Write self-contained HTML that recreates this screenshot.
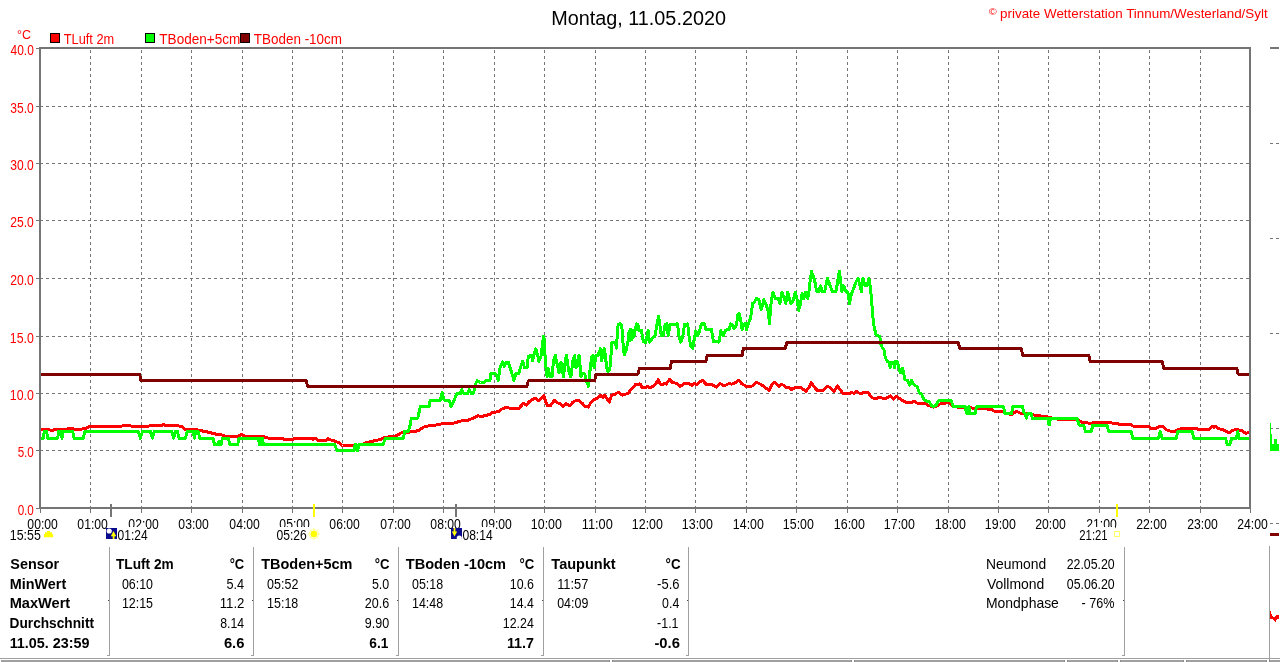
<!DOCTYPE html>
<html lang="de"><head><meta charset="utf-8"><title>Montag, 11.05.2020</title>
<style>html,body{margin:0;padding:0;background:#fff;overflow:hidden}svg text{white-space:pre}</style></head>
<body>
<svg width="1280" height="662" viewBox="0 0 1280 662" style="display:block">
<rect width="1280" height="662" fill="#fff"/>
<path d="M90.5 509V49 M141.5 509V49 M191.5 509V49 M242.5 509V49 M292.5 509V49 M342.5 509V49 M393.5 509V49 M443.5 509V49 M494.5 509V49 M544.5 509V49 M595.5 509V49 M645.5 509V49 M695.5 509V49 M746.5 509V49 M796.5 509V49 M847.5 509V49 M897.5 509V49 M948.5 509V49 M998.5 509V49 M1048.5 509V49 M1099.5 509V49 M1149.5 509V49 M1200.5 509V49" stroke="#757575" stroke-width="1" stroke-dasharray="3 3" fill="none" shape-rendering="crispEdges"/>
<path d="M40 450.5H1249 M40 393.5H1249 M40 336.5H1249 M40 278.5H1249 M40 220.5H1249 M40 163.5H1249 M40 106.5H1249" stroke="#757575" stroke-width="1" stroke-dasharray="3 3" fill="none" shape-rendering="crispEdges"/>
<polyline points="40.0,429.7 48.8,429.7 51.3,430.5 55.1,429.7 63.9,429.1 72.6,428.8 77.6,429.7 81.4,429.1 86.4,428.2 88.9,426.6 95.2,426.1 97.7,426.8 104.0,426.1 110.3,426.3 117.8,426.8 122.8,425.8 130.3,425.8 134.1,426.6 146.6,426.6 150.4,425.7 161.7,425.5 163.9,424.5 165.4,425.7 178.0,425.7 181.7,426.6 184.9,429.7 190.0,429.3 196.3,429.7 200.1,430.5 207.6,432.0 217.6,434.5 222.6,435.1 225.1,436.4 237.7,436.4 241.4,434.5 245.2,436.4 262.8,436.4 267.8,438.0 282.8,438.0 284.1,439.5 292.9,439.5 295.4,438.2 311.7,438.2 312.9,439.5 314.8,438.2 317.9,440.1 326.7,440.1 328.0,438.9 330.5,439.9 334.2,440.8 340.0,443.3 341.3,444.6 342.5,445.5 353.8,445.5 361.3,444.6 367.6,442.3 380.2,439.6 385.2,437.4 395.2,436.2 401.5,432.7 407.7,432.4 417.8,430.8 424.0,427.0 430.3,425.4 437.8,424.9 442.9,423.5 452.9,423.3 461.7,420.8 466.7,420.8 474.2,417.6 478.0,415.7 480.5,416.6 486.7,415.4 490.0,414.1 491.3,413.0 498.8,411.5 501.9,409.0 506.3,407.1 510.1,408.4 518.9,408.4 523.3,403.4 526.4,405.2 528.9,402.1 531.4,400.2 535.2,398.3 538.9,400.8 542.1,397.7 543.7,395.5 545.2,400.2 547.1,405.2 550.2,405.9 552.7,402.7 554.6,400.2 557.1,402.7 560.3,404.0 563.4,406.5 565.9,403.4 569.7,405.9 572.8,402.1 575.3,400.8 579.1,400.8 581.6,402.7 585.3,406.5 588.5,407.1 591.0,402.1 594.1,399.6 597.9,397.7 601.0,395.2 602.9,397.7 604.8,395.2 606.6,398.3 609.2,402.1 611.7,395.2 614.2,394.6 618.6,392.1 622.3,395.2 628.0,393.3 631.7,388.9 635.5,384.5 640.0,383.9 642.5,387.9 645.7,387.2 647.6,386.6 650.1,387.9 653.8,386.0 656.3,382.8 658.2,379.7 660.1,383.5 662.0,384.7 663.9,383.5 666.4,384.1 668.2,381.0 669.9,379.1 672.0,382.2 677.0,383.5 680.2,386.6 683.9,383.5 688.9,383.5 692.1,385.4 694.6,383.5 697.1,384.7 700.2,381.6 702.7,380.3 705.9,384.1 712.1,384.7 716.5,387.2 720.3,383.5 724.0,386.0 729.1,383.5 731.6,384.1 735.3,382.8 738.5,380.3 741.6,383.5 746.6,386.6 752.3,386.0 756.0,382.2 760.4,384.1 764.8,387.2 769.2,390.4 771.7,384.7 774.2,382.2 776.7,384.1 779.2,386.6 781.7,384.1 786.1,387.2 790.0,387.9 791.3,389.6 795.0,387.7 797.6,387.1 800.7,387.1 805.7,391.4 808.8,387.7 811.3,382.7 813.9,386.4 817.0,390.2 822.6,390.8 827.0,386.4 829.5,387.1 833.9,391.4 837.7,385.8 839.6,388.9 842.7,393.3 847.7,393.9 851.5,392.7 854.0,393.3 856.7,391.4 860.3,393.9 863.4,392.7 867.8,392.4 872.2,397.7 875.9,399.0 879.1,397.1 885.3,399.0 890.3,395.8 893.5,399.0 896.6,396.5 901.0,399.6 905.4,402.1 910.4,402.7 914.2,401.5 917.9,403.4 925.5,403.4 928.0,405.2 933.6,407.1 936.7,405.9 940.0,404.0 948.8,402.6 952.6,405.7 958.8,407.6 966.4,407.6 971.4,407.6 973.3,408.8 985.2,408.8 991.4,409.5 994.6,411.3 1002.7,411.3 1005.2,413.2 1011.5,414.5 1016.5,411.3 1020.3,413.2 1022.8,413.2 1030.3,413.8 1034.1,415.1 1039.1,415.7 1047.9,417.0 1055.4,418.9 1067.9,419.9 1078.0,419.5 1081.7,422.4 1090.0,423.2 1093.8,422.9 1096.3,422.0 1107.0,422.0 1110.1,422.9 1116.4,423.2 1120.1,424.5 1130.2,424.5 1133.3,426.1 1148.3,426.1 1151.5,428.6 1156.5,428.3 1159.0,426.4 1162.8,426.4 1166.5,429.9 1170.3,431.1 1174.7,431.4 1179.1,429.1 1185.3,428.3 1194.1,428.3 1197.9,429.1 1209.8,429.1 1212.3,426.4 1213.9,427.4 1215.4,426.4 1217.9,428.6 1222.9,429.5 1227.3,432.0 1230.5,432.0 1233.0,430.1 1237.4,429.5 1240.0,430.8 1241.6,430.4 1245.4,433.3 1249.8,432.6" fill="none" stroke="#ff0000" stroke-width="3" stroke-linejoin="round" shape-rendering="crispEdges"/>
<polyline points="40.0,438.2 43.5,438.2 44.3,431.1 46.7,431.1 47.4,438.2 57.8,438.2 58.6,431.1 60.7,431.1 62.0,438.2 63.4,431.1 72.6,431.1 74.1,438.2 83.3,438.2 84.9,431.1 138.1,431.1 140.3,438.2 142.6,431.1 150.4,431.1 152.3,438.2 154.4,431.1 171.7,431.1 173.6,438.2 175.2,431.1 177.3,431.1 179.0,438.2 185.5,438.2 187.2,431.1 187.5,431.1 193.2,431.1 194.4,438.2 195.7,431.1 198.2,431.1 199.7,438.2 212.9,438.2 214.5,444.5 217.6,444.5 218.9,441.4 220.1,444.5 221.1,444.5 222.4,438.2 228.3,438.2 229.8,444.5 237.7,444.5 238.9,438.2 258.4,438.2 259.6,444.5 260.6,444.5 261.5,438.2 262.5,438.2 263.3,444.5 334.9,444.5 336.7,450.5 340.0,450.5 354.2,450.5 355.1,444.6 356.1,444.6 357.0,450.5 357.8,450.5 358.8,444.6 383.3,444.6 385.2,438.3 403.4,438.3 404.6,431.4 408.4,431.4 410.3,424.5 411.3,418.2 417.8,418.2 419.0,412.6 420.3,406.3 429.1,406.3 430.3,400.1 440.3,400.1 442.2,392.5 444.1,400.1 449.1,400.1 451.0,406.3 454.1,400.1 456.6,393.8 460.4,393.8 461.7,389.4 463.5,393.2 467.9,393.2 469.2,389.4 471.1,393.2 473.6,393.2 475.5,383.8 477.3,380.6 480.5,382.5 484.2,382.5 485.5,380.6 490.0,380.6 490.7,373.9 495.7,373.9 498.2,380.2 500.1,367.6 502.6,362.0 504.5,366.4 506.3,362.0 508.2,362.0 510.1,367.6 512.0,373.9 513.9,380.2 515.7,373.9 518.9,373.3 520.8,366.4 522.6,361.3 524.5,367.6 527.0,367.6 528.3,356.3 531.4,355.1 532.7,360.7 534.5,352.6 535.8,348.8 537.7,355.1 538.9,361.3 541.4,355.1 542.7,341.3 543.7,336.3 544.6,342.5 545.2,361.3 546.5,371.4 547.1,377.0 548.3,368.9 550.2,376.4 552.1,377.0 553.4,361.3 555.2,355.1 557.1,363.9 559.0,372.6 560.9,362.0 562.1,367.6 563.4,377.0 565.3,361.3 566.5,355.1 567.8,365.1 569.0,371.4 570.9,377.0 572.8,361.3 574.7,355.7 575.9,367.6 577.2,366.4 579.1,355.1 580.3,367.6 580.9,377.0 582.2,373.3 584.7,373.9 586.6,381.4 588.5,386.4 590.3,367.6 591.6,357.0 592.9,355.7 594.1,367.6 596.0,355.1 597.9,355.7 600.4,348.8 601.6,360.7 604.1,348.8 605.4,355.1 606.6,367.6 607.9,371.4 609.8,370.1 611.0,355.1 611.7,342.5 614.8,342.5 616.7,348.2 617.4,327.5 618.4,324.7 619.8,323.7 621.6,325.0 622.5,334.5 623.1,344.4 624.2,355.0 626.1,350.0 628.1,341.0 628.6,334.0 629.3,331.0 630.0,340.5 630.6,329.5 631.3,340.0 632.2,330.0 633.0,338.0 633.8,330.5 634.5,335.0 635.4,327.5 636.9,323.9 638.0,325.0 638.8,330.8 639.8,330.2 641.5,330.3 642.5,337.5 643.5,341.5 645.7,342.7 648.2,330.8 649.4,342.1 651.9,339.0 655.1,335.8 657.0,324.5 658.6,316.4 660.1,327.0 661.3,335.8 663.2,335.8 665.1,324.5 667.0,323.9 668.2,335.8 670.1,324.5 677.6,323.9 678.9,335.8 680.8,342.1 682.7,337.1 684.5,324.5 687.7,323.9 688.9,335.8 690.8,345.9 692.7,348.4 694.6,337.1 695.8,330.8 697.7,335.8 699.6,330.8 701.5,323.9 704.6,323.9 705.9,329.6 711.5,329.6 713.4,341.5 719.0,342.1 720.9,330.8 723.4,335.8 725.3,330.2 729.1,329.6 730.9,323.9 732.2,324.5 734.1,328.9 736.6,324.5 737.8,314.5 739.1,313.3 741.0,322.0 742.2,329.6 743.5,324.5 745.4,323.3 746.6,329.6 748.5,323.3 750.4,318.3 751.6,312.0 752.5,303.4 754.4,302.1 756.3,298.4 758.8,299.6 761.3,309.6 763.8,299.6 766.3,305.3 768.2,310.9 769.5,323.4 770.7,305.9 772.9,292.1 775.1,298.4 778.2,298.4 779.9,303.4 782.0,292.1 785.8,303.4 787.6,292.1 790.8,303.4 792.7,302.1 795.2,292.1 797.1,299.6 798.7,310.3 800.2,304.6 802.1,293.3 803.9,298.4 805.8,292.1 807.7,298.4 809.0,290.8 810.2,280.8 811.5,271.4 814.0,278.3 815.2,283.3 816.7,291.5 819.0,291.5 820.5,285.8 822.1,291.5 824.6,291.5 825.9,285.8 827.5,278.3 829.7,284.6 832.2,291.5 835.9,291.5 837.2,284.6 838.4,275.8 839.4,271.4 840.7,280.8 841.8,291.5 843.8,285.8 846.0,291.5 847.8,292.1 849.5,303.4 851.6,293.3 854.1,287.1 856.0,282.1 857.9,278.3 859.7,284.6 861.4,291.5 862.9,278.3 864.8,285.2 867.3,285.2 868.9,278.3 870.4,287.1 871.9,304.6 872.9,317.2 874.2,327.2 876.1,334.7 879.8,336.6 881.1,345.0 882.2,347.6 884.1,350.1 885.3,357.6 887.2,361.3 889.1,362.6 890.3,367.6 891.6,362.0 893.5,362.0 894.4,367.6 895.4,361.3 897.2,361.3 898.5,366.4 900.4,372.6 902.3,368.2 903.5,371.4 904.8,379.5 907.9,380.8 909.8,385.2 911.7,380.2 912.9,383.9 915.4,385.8 917.3,386.4 919.2,392.7 921.7,393.9 923.6,399.0 925.5,400.8 929.2,401.5 931.1,405.2 933.6,406.7 936.1,405.2 938.0,401.5 940.0,400.2 951.3,400.7 953.2,406.6 965.1,406.6 966.4,413.2 967.6,413.6 968.9,406.6 970.1,413.6 975.1,413.6 976.6,406.6 1003.4,406.6 1005.0,413.6 1011.5,413.6 1013.0,406.6 1022.5,406.6 1024.0,412.8 1025.3,413.6 1026.3,418.2 1027.8,413.2 1030.9,413.2 1032.6,418.6 1047.9,418.6 1049.1,425.1 1050.4,418.6 1077.3,418.6 1079.0,425.1 1083.6,425.1 1085.5,431.4 1090.0,431.4 1091.3,431.4 1092.8,425.1 1107.0,425.1 1108.6,431.4 1131.2,431.4 1132.7,438.3 1158.4,438.3 1160.3,431.4 1162.1,438.3 1176.3,438.3 1177.8,431.4 1192.2,431.4 1193.9,438.3 1225.5,438.3 1227.3,444.6 1229.8,444.6 1231.7,438.3 1236.5,438.3 1237.7,431.6 1239.0,438.3 1249.8,438.3" fill="none" stroke="#00ff00" stroke-width="3" stroke-linejoin="round" shape-rendering="crispEdges"/>
<polyline points="40.0,374.0 139.6,374.0 141.0,380.9 306.3,380.9 307.7,386.6 526.9,386.6 528.3,380.9 594.7,380.9 596.1,374.0 638.0,374.0 639.4,368.2 670.1,368.2 671.5,361.3 705.8,361.3 707.2,355.5 742.0,355.5 743.4,348.6 785.3,348.6 786.7,342.9 958.4,342.9 959.8,348.6 1021.3,348.6 1022.7,355.5 1088.8,355.5 1090.2,361.3 1162.3,361.3 1163.7,368.2 1236.7,368.2 1238.1,374.0 1249.5,374.0" fill="none" stroke="#800000" stroke-width="3" stroke-linejoin="round" shape-rendering="crispEdges"/>
<g fill="#757575" shape-rendering="crispEdges">
<rect x="39" y="47" width="1212" height="2"/>
<rect x="39" y="507" width="1212" height="2"/>
<rect x="39" y="47" width="2" height="462"/>
<rect x="1249" y="47" width="2" height="462"/>
<rect x="36" y="508" width="3" height="1"/>
<rect x="36" y="450" width="3" height="1"/>
<rect x="36" y="393" width="3" height="1"/>
<rect x="36" y="336" width="3" height="1"/>
<rect x="36" y="278" width="3" height="1"/>
<rect x="36" y="220" width="3" height="1"/>
<rect x="36" y="163" width="3" height="1"/>
<rect x="36" y="106" width="3" height="1"/>
<rect x="36" y="48" width="3" height="1"/>
<rect x="40" y="509" width="1" height="4"/>
<rect x="90" y="509" width="1" height="4"/>
<rect x="141" y="509" width="1" height="4"/>
<rect x="191" y="509" width="1" height="4"/>
<rect x="242" y="509" width="1" height="4"/>
<rect x="292" y="509" width="1" height="4"/>
<rect x="342" y="509" width="1" height="4"/>
<rect x="393" y="509" width="1" height="4"/>
<rect x="443" y="509" width="1" height="4"/>
<rect x="494" y="509" width="1" height="4"/>
<rect x="544" y="509" width="1" height="4"/>
<rect x="595" y="509" width="1" height="4"/>
<rect x="645" y="509" width="1" height="4"/>
<rect x="695" y="509" width="1" height="4"/>
<rect x="746" y="509" width="1" height="4"/>
<rect x="796" y="509" width="1" height="4"/>
<rect x="847" y="509" width="1" height="4"/>
<rect x="897" y="509" width="1" height="4"/>
<rect x="948" y="509" width="1" height="4"/>
<rect x="998" y="509" width="1" height="4"/>
<rect x="1048" y="509" width="1" height="4"/>
<rect x="1099" y="509" width="1" height="4"/>
<rect x="1149" y="509" width="1" height="4"/>
<rect x="1200" y="509" width="1" height="4"/>
<rect x="1250" y="509" width="1" height="4"/>
<rect x="110" y="504" width="2" height="13"/>
<rect x="455" y="504" width="2" height="13"/>
<rect x="1270" y="47" width="9" height="2"/>
<rect x="1270" y="143" width="3" height="1"/><rect x="1276" y="143" width="3" height="1"/>
<rect x="1270" y="238" width="3" height="1"/><rect x="1276" y="238" width="3" height="1"/>
<rect x="1270" y="333" width="3" height="1"/><rect x="1276" y="333" width="3" height="1"/>
<rect x="1270" y="428" width="3" height="1"/><rect x="1276" y="428" width="3" height="1"/>
<rect x="1270" y="523" width="3" height="1"/><rect x="1276" y="523" width="3" height="1"/>
</g>
<g fill="#ffff00" shape-rendering="crispEdges"><rect x="313" y="504" width="2" height="13"/><rect x="1116" y="504" width="2" height="13"/></g>
<rect x="1270" y="533" width="9" height="3" fill="#800000" shape-rendering="crispEdges"/>
<path d="M1270 423H1271V434H1272.3V444H1274L1274.5 438.5H1276.5L1277 444H1279V451H1270Z" fill="#00ff00" shape-rendering="crispEdges"/>
<path d="M1270 611H1271L1272 616L1274 617.5L1276 615.5L1278 615L1279 616V619L1277 619.5L1275.5 622L1274 620L1272 619L1270 618.5Z" fill="#ff0000" shape-rendering="crispEdges"/>
<rect x="50.5" y="33.5" width="9" height="9" fill="#ff0000" stroke="#000" stroke-width="1" shape-rendering="crispEdges"/>
<rect x="145.5" y="33.5" width="9" height="9" fill="#00ff00" stroke="#000" stroke-width="1" shape-rendering="crispEdges"/>
<rect x="240.5" y="33.5" width="9" height="9" fill="#800000" stroke="#000" stroke-width="1" shape-rendering="crispEdges"/>
<g font-family="Liberation Sans, Arial, sans-serif" xml:space="preserve">
<text transform="translate(27.36,529) scale(0.8707,1)" font-size="14" font-weight="normal" fill="#000">00:00</text>
<text transform="translate(77.36,529) scale(0.8707,1)" font-size="14" font-weight="normal" fill="#000">01:00</text>
<text transform="translate(128.36,529) scale(0.8707,1)" font-size="14" font-weight="normal" fill="#000">02:00</text>
<text transform="translate(178.36,529) scale(0.8707,1)" font-size="14" font-weight="normal" fill="#000">03:00</text>
<text transform="translate(229.36,529) scale(0.8707,1)" font-size="14" font-weight="normal" fill="#000">04:00</text>
<text transform="translate(279.36,529) scale(0.8707,1)" font-size="14" font-weight="normal" fill="#000">05:00</text>
<text transform="translate(329.36,529) scale(0.8707,1)" font-size="14" font-weight="normal" fill="#000">06:00</text>
<text transform="translate(380.36,529) scale(0.8707,1)" font-size="14" font-weight="normal" fill="#000">07:00</text>
<text transform="translate(430.36,529) scale(0.8707,1)" font-size="14" font-weight="normal" fill="#000">08:00</text>
<text transform="translate(481.36,529) scale(0.8707,1)" font-size="14" font-weight="normal" fill="#000">09:00</text>
<text transform="translate(530.86,529) scale(0.8854,1)" font-size="14" font-weight="normal" fill="#000">10:00</text>
<text transform="translate(581.83,529) scale(0.9122,1)" font-size="14" font-weight="normal" fill="#000">11:00</text>
<text transform="translate(631.86,529) scale(0.8854,1)" font-size="14" font-weight="normal" fill="#000">12:00</text>
<text transform="translate(681.86,529) scale(0.8854,1)" font-size="14" font-weight="normal" fill="#000">13:00</text>
<text transform="translate(732.86,529) scale(0.8854,1)" font-size="14" font-weight="normal" fill="#000">14:00</text>
<text transform="translate(782.86,529) scale(0.8854,1)" font-size="14" font-weight="normal" fill="#000">15:00</text>
<text transform="translate(833.86,529) scale(0.8854,1)" font-size="14" font-weight="normal" fill="#000">16:00</text>
<text transform="translate(883.86,529) scale(0.8854,1)" font-size="14" font-weight="normal" fill="#000">17:00</text>
<text transform="translate(934.86,529) scale(0.8854,1)" font-size="14" font-weight="normal" fill="#000">18:00</text>
<text transform="translate(984.86,529) scale(0.8854,1)" font-size="14" font-weight="normal" fill="#000">19:00</text>
<text transform="translate(1035.24,529) scale(0.8743,1)" font-size="14" font-weight="normal" fill="#000">20:00</text>
<text transform="translate(1086.24,529) scale(0.8743,1)" font-size="14" font-weight="normal" fill="#000">21:00</text>
<text transform="translate(1136.24,529) scale(0.8743,1)" font-size="14" font-weight="normal" fill="#000">22:00</text>
<text transform="translate(1187.24,529) scale(0.8743,1)" font-size="14" font-weight="normal" fill="#000">23:00</text>
<text transform="translate(1237.24,529) scale(0.8743,1)" font-size="14" font-weight="normal" fill="#000">24:00</text>
<g fill="#fff"><rect x="118" y="527" width="29" height="16"/><rect x="276" y="527" width="34" height="16"/><rect x="463" y="527" width="30.5" height="16"/><rect x="1079" y="527" width="36" height="16"/></g>
<text transform="translate(551.21,25) scale(1.0059,1)" font-size="19.7" font-weight="normal" fill="#000">Montag, 11.05.2020</text>
<text transform="translate(1000.06,18.3) scale(1.0157,1)" font-size="13.2" font-weight="normal" fill="#ff0000">private Wetterstation Tinnum/Westerland/Sylt</text>
<text transform="translate(988.68,14.5) scale(1.2063,1)" font-size="9" font-weight="normal" fill="#ff0000">©</text>
<text transform="translate(17.05,39) scale(0.9223,1)" font-size="13.5" font-weight="normal" fill="#ff0000">°C</text>
<text transform="translate(63.74,44) scale(0.9141,1)" font-size="14" font-weight="normal" fill="#ff0000">TLuft 2m</text>
<text transform="translate(159.33,44) scale(0.9690,1)" font-size="14" font-weight="normal" fill="#ff0000">TBoden+5cm</text>
<text transform="translate(253.83,44) scale(0.9605,1)" font-size="14" font-weight="normal" fill="#ff0000">TBoden -10cm</text>
<text transform="translate(17.63,515) scale(0.8342,1)" font-size="14" font-weight="normal" fill="#ff0000">0.0</text>
<text transform="translate(17.63,457) scale(0.8342,1)" font-size="14" font-weight="normal" fill="#ff0000">5.0</text>
<text transform="translate(9.81,400) scale(0.8821,1)" font-size="14" font-weight="normal" fill="#ff0000">10.0</text>
<text transform="translate(9.81,343) scale(0.8821,1)" font-size="14" font-weight="normal" fill="#ff0000">15.0</text>
<text transform="translate(10.19,285) scale(0.8679,1)" font-size="14" font-weight="normal" fill="#ff0000">20.0</text>
<text transform="translate(10.19,227) scale(0.8679,1)" font-size="14" font-weight="normal" fill="#ff0000">25.0</text>
<text transform="translate(10.32,170) scale(0.8633,1)" font-size="14" font-weight="normal" fill="#ff0000">30.0</text>
<text transform="translate(10.32,113) scale(0.8633,1)" font-size="14" font-weight="normal" fill="#ff0000">35.0</text>
<text transform="translate(10.56,55) scale(0.8541,1)" font-size="14" font-weight="normal" fill="#ff0000">40.0</text>
<text transform="translate(9.81,540) scale(0.8854,1)" font-size="14" font-weight="normal" fill="#000">15:55</text>
<text transform="translate(117.62,540) scale(0.8583,1)" font-size="14" font-weight="normal" fill="#000">01:24</text>
<text transform="translate(276.42,540) scale(0.8648,1)" font-size="14" font-weight="normal" fill="#000">05:26</text>
<text transform="translate(462.42,540) scale(0.8642,1)" font-size="14" font-weight="normal" fill="#000">08:14</text>
<text transform="translate(1079.23,540) scale(0.8125,1)" font-size="14" font-weight="normal" fill="#000">21:21</text>
<text transform="translate(10.27,569) scale(1.0308,1)" font-size="14" font-weight="bold" fill="#000">Sensor</text>
<text transform="translate(9.69,589) scale(1.0286,1)" font-size="14" font-weight="bold" fill="#000">MinWert</text>
<text transform="translate(9.68,608) scale(1.0425,1)" font-size="14" font-weight="bold" fill="#000">MaxWert</text>
<text transform="translate(9.54,628) scale(0.9794,1)" font-size="14" font-weight="bold" fill="#000">Durchschnitt</text>
<text transform="translate(9.64,648) scale(1.0269,1)" font-size="14" font-weight="bold" fill="#000">11.05. 23:59</text>
<text transform="translate(115.96,569) scale(0.9793,1)" font-size="14" font-weight="bold" fill="#000">TLuft 2m</text>
<text transform="translate(229.68,569) scale(0.9252,1)" font-size="14" font-weight="bold" fill="#000">°C</text>
<text transform="translate(121.90,589) scale(0.8884,1)" font-size="14" font-weight="normal" fill="#000">06:10</text>
<text transform="translate(226.49,589) scale(0.9091,1)" font-size="14" font-weight="normal" fill="#000">5.4</text>
<text transform="translate(121.91,608) scale(0.8884,1)" font-size="14" font-weight="normal" fill="#000">12:15</text>
<text transform="translate(219.64,608) scale(0.9483,1)" font-size="14" font-weight="normal" fill="#000">11.2</text>
<text transform="translate(220.21,628) scale(0.8777,1)" font-size="14" font-weight="normal" fill="#000">8.14</text>
<text transform="translate(223.91,648) scale(1.0523,1)" font-size="14" font-weight="bold" fill="#000">6.6</text>
<text transform="translate(261.16,569) scale(1.0353,1)" font-size="14" font-weight="bold" fill="#000">TBoden+5cm</text>
<text transform="translate(374.87,569) scale(0.9388,1)" font-size="14" font-weight="bold" fill="#000">°C</text>
<text transform="translate(267.10,589) scale(0.8921,1)" font-size="14" font-weight="normal" fill="#000">05:52</text>
<text transform="translate(371.90,589) scale(0.8888,1)" font-size="14" font-weight="normal" fill="#000">5.0</text>
<text transform="translate(267.11,608) scale(0.8884,1)" font-size="14" font-weight="normal" fill="#000">15:18</text>
<text transform="translate(364.77,608) scale(0.8996,1)" font-size="14" font-weight="normal" fill="#000">20.6</text>
<text transform="translate(364.77,628) scale(0.8948,1)" font-size="14" font-weight="normal" fill="#000">9.90</text>
<text transform="translate(369.35,648) scale(0.9794,1)" font-size="14" font-weight="bold" fill="#000">6.1</text>
<text transform="translate(405.85,569) scale(1.0400,1)" font-size="14" font-weight="bold" fill="#000">TBoden -10cm</text>
<text transform="translate(519.57,569) scale(0.9388,1)" font-size="14" font-weight="bold" fill="#000">°C</text>
<text transform="translate(412.00,589) scale(0.8884,1)" font-size="14" font-weight="normal" fill="#000">05:18</text>
<text transform="translate(509.81,589) scale(0.8870,1)" font-size="14" font-weight="normal" fill="#000">10.6</text>
<text transform="translate(412.01,608) scale(0.8884,1)" font-size="14" font-weight="normal" fill="#000">14:48</text>
<text transform="translate(509.82,608) scale(0.8773,1)" font-size="14" font-weight="normal" fill="#000">14.4</text>
<text transform="translate(502.81,628) scale(0.8846,1)" font-size="14" font-weight="normal" fill="#000">12.24</text>
<text transform="translate(506.94,648) scale(1.0215,1)" font-size="14" font-weight="bold" fill="#000">11.7</text>
<text transform="translate(551.35,569) scale(1.0373,1)" font-size="14" font-weight="bold" fill="#000">Taupunkt</text>
<text transform="translate(665.57,569) scale(0.9524,1)" font-size="14" font-weight="bold" fill="#000">°C</text>
<text transform="translate(557.17,589) scale(0.9193,1)" font-size="14" font-weight="normal" fill="#000">11:57</text>
<text transform="translate(657.08,589) scale(0.9277,1)" font-size="14" font-weight="normal" fill="#000">-5.6</text>
<text transform="translate(557.20,608) scale(0.8884,1)" font-size="14" font-weight="normal" fill="#000">04:09</text>
<text transform="translate(662.11,608) scale(0.8820,1)" font-size="14" font-weight="normal" fill="#000">0.4</text>
<text transform="translate(657.10,628) scale(0.8896,1)" font-size="14" font-weight="normal" fill="#000">-1.1</text>
<text transform="translate(654.41,648) scale(1.0563,1)" font-size="14" font-weight="bold" fill="#000">-0.6</text>
<text transform="translate(985.99,569) scale(0.9922,1)" font-size="14" font-weight="normal" fill="#000">Neumond</text>
<text transform="translate(1066.68,569) scale(0.8816,1)" font-size="14" font-weight="normal" fill="#000">22.05.20</text>
<text transform="translate(986.96,589) scale(0.9972,1)" font-size="14" font-weight="normal" fill="#000">Vollmond</text>
<text transform="translate(1066.81,589) scale(0.8793,1)" font-size="14" font-weight="normal" fill="#000">05.06.20</text>
<text transform="translate(985.98,608) scale(0.9972,1)" font-size="14" font-weight="normal" fill="#000">Mondphase</text>
<text transform="translate(1081.59,608) scale(0.9027,1)" font-size="14" font-weight="normal" fill="#000">- 76%</text>
</g>
<path d="M44 537.2V534.3H45V532.3H47V531H50V532.3H52V534.3H53.2V537.2Z" fill="#ffff00"/>
<g shape-rendering="crispEdges"><rect x="106" y="528" width="11" height="11" fill="#0a0a8c"/></g>
<circle cx="109.2" cy="531" r="2.6" fill="#fff"/>
<path d="M113.5 531L116.3 536.2H114.5V539H112.7V536.2H110.8Z" fill="#ffff00"/>
<g shape-rendering="crispEdges"><rect x="451" y="528" width="11" height="11" fill="#0a0a8c"/></g>
<circle cx="459.3" cy="538" r="2.6" fill="#fff"/>
<path d="M454.5 536.5L451.8 531.5H453.6V528H455.4V531.5H457.2Z" fill="#ffff00"/>
<g stroke="#ffff9a" stroke-width="1" fill="none"><path d="M313.9 528V540M308 534H320M309.8 529.8L318 538.2M318 529.8L309.8 538.2"/><circle cx="313.9" cy="534" r="4.6"/></g>
<circle cx="313.9" cy="534" r="3.2" fill="#ffff00"/>
<rect x="1114.5" y="531.5" width="5" height="5" fill="none" stroke="#ffff66" stroke-width="1" shape-rendering="crispEdges"/>
<g fill="#a0a0a0" shape-rendering="crispEdges">
<rect x="109" y="547" width="1" height="109"/><rect x="107" y="655" width="2" height="1"/>
<rect x="253" y="547" width="1" height="109"/><rect x="251" y="655" width="2" height="1"/>
<rect x="398" y="547" width="1" height="109"/><rect x="396" y="655" width="2" height="1"/>
<rect x="543" y="547" width="1" height="109"/><rect x="541" y="655" width="2" height="1"/>
<rect x="688" y="547" width="1" height="109"/><rect x="686" y="655" width="2" height="1"/>
<rect x="1124" y="547" width="1" height="109"/><rect x="1122" y="655" width="2" height="1"/>
<rect x="1269" y="546" width="1" height="116"/>
<rect x="0" y="658" width="1280" height="1"/>
<rect x="1" y="660" width="1279" height="2"/>
</g>
<g fill="#444" shape-rendering="crispEdges">
<rect x="108" y="600" width="1" height="1"/>
<rect x="252" y="600" width="1" height="1"/>
<rect x="397" y="600" width="1" height="1"/>
<rect x="542" y="600" width="1" height="1"/>
<rect x="687" y="600" width="1" height="1"/>
<rect x="1123" y="600" width="1" height="1"/>
</g>
<g shape-rendering="crispEdges">
<rect x="609" y="660" width="4" height="2" fill="#8a8a8a"/><rect x="610" y="660" width="2" height="2" fill="#fff"/>
<rect x="851" y="660" width="4" height="2" fill="#8a8a8a"/><rect x="852" y="660" width="2" height="2" fill="#fff"/>
<rect x="1064" y="660" width="4" height="2" fill="#8a8a8a"/><rect x="1065" y="660" width="2" height="2" fill="#fff"/>
<rect x="1117" y="660" width="4" height="2" fill="#8a8a8a"/><rect x="1118" y="660" width="2" height="2" fill="#fff"/>
<rect x="1183" y="660" width="4" height="2" fill="#8a8a8a"/><rect x="1184" y="660" width="2" height="2" fill="#fff"/>
<rect x="1266" y="660" width="4" height="2" fill="#8a8a8a"/><rect x="1267" y="660" width="2" height="2" fill="#fff"/>
</g>
</svg>
</body></html>
